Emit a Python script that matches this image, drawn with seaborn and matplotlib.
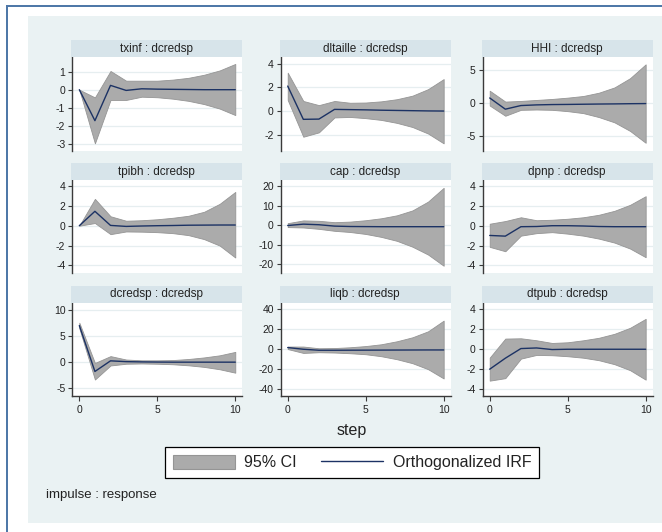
import numpy as np
import pandas as pd
import matplotlib
matplotlib.use("Agg")
import matplotlib.pyplot as plt
from matplotlib.patches import Rectangle, Patch
from matplotlib.lines import Line2D
import seaborn as sns

# ---------------- data ----------------
steps = [0, 1, 2, 3, 4, 5, 6, 7, 8, 9, 10]
impulses = ["txinf", "dltaille", "HHI", "tpibh", "cap", "dpnp", "dcredsp", "liqb", "dtpub"]
response = "dcredsp"

txinf_irf = [0, -1.72, 0.24, -0.04, 0.05, 0.03, 0.02, 0.01, 0.0, 0.0, 0.0]
txinf_lo = [0, -2.98, -0.57, -0.57, -0.39, -0.42, -0.5, -0.62, -0.8, -1.05, -1.41]
txinf_hi = [0, -0.43, 1.04, 0.5, 0.5, 0.5, 0.56, 0.66, 0.83, 1.07, 1.43]

dltaille_irf = [2.11, -0.7, -0.68, 0.14, 0.12, 0.1, 0.07, 0.05, 0.03, 0.01, 0.0]
dltaille_lo = [0.93, -2.17, -1.8, -0.54, -0.5, -0.6, -0.75, -1.0, -1.35, -1.9, -2.73]
dltaille_hi = [3.24, 0.85, 0.5, 0.85, 0.7, 0.72, 0.82, 1.0, 1.3, 1.85, 2.7]

HHI_irf = [0.7, -1.0, -0.45, -0.35, -0.3, -0.28, -0.25, -0.22, -0.2, -0.17, -0.15]
HHI_lo = [-0.45, -2.0, -1.1, -1.05, -1.1, -1.3, -1.6, -2.2, -3.0, -4.3, -6.1]
HHI_hi = [1.8, 0.15, 0.25, 0.4, 0.55, 0.75, 1.0, 1.5, 2.3, 3.7, 5.8]

tpibh_irf = [0, 1.45, 0.03, -0.07, -0.03, 0.0, 0.02, 0.05, 0.06, 0.07, 0.07]
tpibh_lo = [0, 0.27, -0.85, -0.58, -0.6, -0.65, -0.75, -0.95, -1.35, -2.0, -3.2]
tpibh_hi = [0, 2.7, 0.95, 0.5, 0.55, 0.65, 0.8, 1.0, 1.4, 2.2, 3.4]

cap_irf = [-0.2, 0.5, 0.2, -0.5, -0.7, -0.75, -0.8, -0.8, -0.8, -0.8, -0.8]
cap_lo = [-1.0, -1.2, -1.9, -2.9, -3.5, -4.5, -6.0, -8.0, -11.0, -15.0, -20.7]
cap_hi = [1.0, 2.4, 2.2, 1.5, 1.8, 2.5, 3.5, 5.0, 7.5, 12.0, 19.0]

dpnp_irf = [-0.98, -1.05, -0.1, -0.08, 0.0, 0.0, -0.03, -0.08, -0.1, -0.1, -0.1]
dpnp_lo = [-2.13, -2.57, -1.0, -0.75, -0.65, -0.8, -1.0, -1.3, -1.7, -2.3, -3.17]
dpnp_hi = [0.2, 0.47, 0.85, 0.55, 0.6, 0.7, 0.85, 1.1, 1.5, 2.1, 2.97]

dcredsp_irf = [6.96, -1.77, 0.25, 0.1, 0.05, 0.02, 0.0, 0.0, 0.0, 0.0, 0.0]
dcredsp_lo = [6.45, -3.3, -0.63, -0.3, -0.25, -0.3, -0.4, -0.6, -0.9, -1.35, -2.0]
dcredsp_hi = [7.5, -0.15, 1.15, 0.5, 0.35, 0.35, 0.4, 0.6, 0.9, 1.3, 1.95]

liqb_irf = [1.7, 0.0, -1.0, -1.0, -0.95, -0.9, -0.85, -0.8, -0.75, -0.7, -0.7]
liqb_lo = [0.2, -3.7, -3.0, -3.3, -4.0, -5.0, -7.0, -10.0, -14.0, -20.0, -29.3]
liqb_hi = [2.7, 2.7, 1.0, 1.2, 2.0, 3.2, 5.0, 8.0, 12.0, 18.0, 28.7]

dtpub_irf = [-2.0, -0.9, 0.07, 0.13, -0.03, 0.0, 0.0, 0.0, 0.0, 0.0, 0.0]
dtpub_lo = [-3.15, -2.9, -0.94, -0.57, -0.6, -0.7, -0.85, -1.1, -1.5, -2.1, -3.05]
dtpub_hi = [-0.84, 1.07, 1.1, 0.9, 0.63, 0.7, 0.9, 1.15, 1.55, 2.15, 3.05]

irf = [txinf_irf, dltaille_irf, HHI_irf, tpibh_irf, cap_irf, dpnp_irf, dcredsp_irf, liqb_irf, dtpub_irf]
lo = [txinf_lo, dltaille_lo, HHI_lo, tpibh_lo, cap_lo, dpnp_lo, dcredsp_lo, liqb_lo, dtpub_lo]
hi = [txinf_hi, dltaille_hi, HHI_hi, tpibh_hi, cap_hi, dpnp_hi, dcredsp_hi, liqb_hi, dtpub_hi]

yticks = [
    [-3, -2, -1, 0, 1],
    [-2, 0, 2, 4],
    [-5, 0, 5],
    [-4, -2, 0, 2, 4],
    [-20, -10, 0, 10, 20],
    [-4, -2, 0, 2, 4],
    [-5, 0, 5, 10],
    [-40, -20, 0, 20, 40],
    [-4, -2, 0, 2, 4],
]
xticks = [0, 5, 10]

# layout (not data)
ylims = [(-3.39, 1.8), (-3.35, 4.54), (-7.3, 6.87), (-4.8, 4.6), (-24.6, 23.0),
         (-4.8, 4.6), (-6.45, 11.3), (-47.0, 46.7), (-4.7, 4.67)]

frames = []
for name, a, b, c in zip(impulses, irf, lo, hi):
    frames.append(pd.DataFrame({"impulse": name, "step": steps, "irf": a, "lo": b, "hi": c}))
df = pd.concat(frames, ignore_index=True)

# ---------------- style ----------------
sns.set_theme(style="white")
plt.rcParams["font.family"] = ["Liberation Sans", "DejaVu Sans"]

W, H = 662, 532
BG = "#EAF2F3"
STRIP = "#D7E4EA"
NAVY = "#1c3264"
CI_FILL = "#ababab"
CI_EDGE = "#959595"
AXC = "#3a3a3a"
GRID = "#e6eef0"

fig = plt.figure(figsize=(W / 100, H / 100), dpi=100)
fig.patch.set_facecolor("white")

def fr(x, y, w, h):
    # pixel box (top-left origin) -> figure fraction rect
    return [x / W, 1 - (y + h) / H, w / W, h / H]

# background panel and frame
fig.patches.append(Rectangle((28 / W, 1 - 523 / H), (W - 28) / W, (523 - 16) / H,
                             transform=fig.transFigure, facecolor=BG, edgecolor="none", zorder=-10))
fig.patches.append(Rectangle((6 / W, 1 - 7 / H), (W - 6) / W, 2 / H,
                             transform=fig.transFigure, facecolor="#4f78a8", edgecolor="none", zorder=-10))
fig.patches.append(Rectangle((6 / W, 0), 2 / W, (H - 5) / H,
                             transform=fig.transFigure, facecolor="#4f78a8", edgecolor="none", zorder=-10))

col_x = [72.3, 280.7, 482.7]
row_y = [57.3, 180.0, 302.7]
pw, ph = 170.0, 93.4
sh = 17.0

for i, name in enumerate(impulses):
    r, c = divmod(i, 3)
    x0, y0 = col_x[c], row_y[r]
    ax = fig.add_axes(fr(x0, y0, pw, ph))
    ax.set_zorder(2)
    ax.set_facecolor("white")
    d = df[df["impulse"] == name]
    ax.fill_between(d["step"], d["lo"], d["hi"], facecolor=CI_FILL, edgecolor=CI_EDGE,
                    linewidth=0.6, zorder=2)
    sns.lineplot(data=d, x="step", y="irf", ax=ax, color=NAVY, linewidth=1.0,
                 zorder=3, legend=False)
    ax.set_xlim(-0.45, 10.45)
    ax.set_ylim(*ylims[i])
    ax.set_yticks(yticks[i])
    ax.set_yticklabels([str(t) for t in yticks[i]])
    ax.yaxis.grid(True, color=GRID, linewidth=0.9, zorder=0)
    ax.set_axisbelow(True)
    ax.set_xlabel("")
    ax.set_ylabel("")
    for s in ["top", "right"]:
        ax.spines[s].set_visible(False)
    ax.spines["left"].set_color(AXC)
    ax.spines["left"].set_linewidth(1.0)
    ax.tick_params(axis="y", left=True, length=3, width=0.8, color=AXC,
                   labelsize=7.5, labelcolor="#222222", pad=2)
    if r == 2:
        ax.set_xticks(xticks)
        ax.set_xticklabels([str(t) for t in xticks])
        ax.spines["bottom"].set_color(AXC)
        ax.spines["bottom"].set_linewidth(1.0)
        ax.tick_params(axis="x", bottom=True, length=3.5, width=0.8, color=AXC,
                       labelsize=7.5, labelcolor="#222222", pad=3)
    else:
        ax.spines["bottom"].set_visible(False)
        ax.set_xticks([])
    # strip title
    sax = fig.add_axes(fr(x0 - 1, y0 - sh, pw + 1, sh))
    sax.set_zorder(2)
    sax.set_facecolor(STRIP)
    sax.set_xticks([])
    sax.set_yticks([])
    for s in sax.spines.values():
        s.set_visible(False)
    sax.text(0.5, 0.5, f"{name} : {response}", ha="center", va="center",
             fontsize=8.5, color="#222222", transform=sax.transAxes)

fig.text(352 / W, 1 - 431 / H, "step", ha="center", va="center", fontsize=11.5, color="#222222")

handles = [Patch(facecolor=CI_FILL, edgecolor=CI_EDGE, linewidth=0.8),
           Line2D([0], [0], color=NAVY, linewidth=1.0)]
leg = fig.legend(handles, ["95% CI", "Orthogonalized IRF"], loc="center",
                 bbox_to_anchor=(352 / W, 1 - 462.5 / H), ncol=2, fontsize=11.5,
                 frameon=True, fancybox=False, edgecolor="black", framealpha=1,
                 handlelength=3.9, handleheight=1.05, handletextpad=0.6,
                 columnspacing=1.5, borderpad=0.45, borderaxespad=0)
leg.get_frame().set_linewidth(0.9)
for t in leg.get_texts():
    t.set_color("#222222")

fig.text(46 / W, 1 - 495 / H, "impulse : response", ha="left", va="center",
         fontsize=9.5, color="#222222")

fig.savefig("out.png", dpi=100, facecolor="white")
